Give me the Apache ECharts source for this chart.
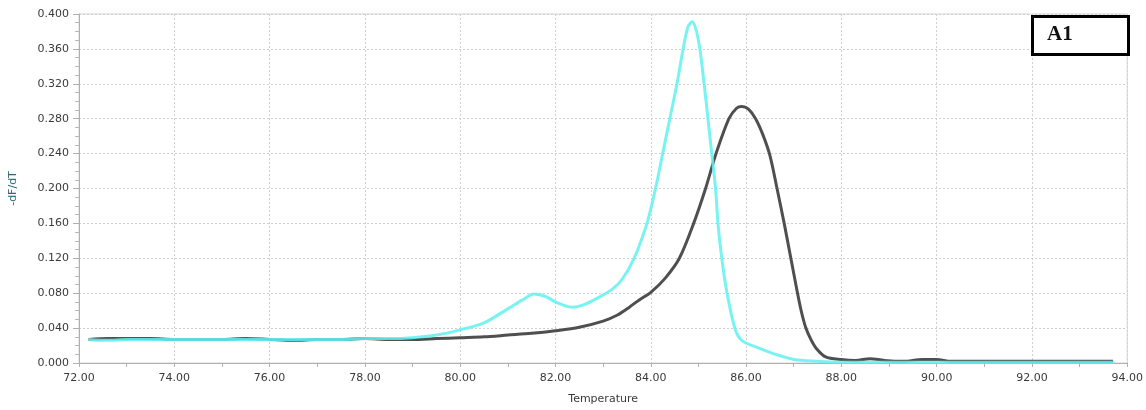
<!DOCTYPE html>
<html>
<head>
<meta charset="utf-8">
<title>Melt curve A1</title>
<script src="https://cdn.jsdelivr.net/npm/echarts@6/dist/echarts.min.js"></script>
<style>
  html, body { margin: 0; padding: 0; background: #ffffff; }
  #chart { width: 1146px; height: 410px; }
</style>
</head>
<body>
<div id="chart"></div>
<script>
// Melt-curve derivative (-dF/dT) versus temperature, two wells.
var xTicks = ['72.00', '74.00', '76.00', '78.00', '80.00', '82.00', '84.00', '86.00', '88.00', '90.00', '92.00', '94.00'];
var yTicks = ['0.000', '0.040', '0.080', '0.120', '0.160', '0.200', '0.240', '0.280', '0.320', '0.360', '0.400'];

// Dark trace: temperatures and -dF/dT values
var darkTemp = [72.2, 72.6, 73.0, 73.5, 74.0, 74.5, 75.0, 75.5, 76.0, 76.5, 77.0, 77.5, 78.0, 78.5, 79.0, 79.5,
  80.0, 80.5, 81.0, 81.5, 82.0, 82.5, 83.0, 83.3, 83.55, 83.75, 84.0, 84.3, 84.6, 84.9, 85.15, 85.37, 85.64,
  85.8, 85.91, 86.05, 86.2, 86.35, 86.5, 86.65, 86.8, 86.94, 87.08, 87.16, 87.25, 87.36, 87.47, 87.67, 88.0,
  88.3, 88.6, 88.9, 89.3, 89.7, 90.0, 90.3, 91.0, 92.0, 93.0, 93.7];
var darkVal = [0.027, 0.028, 0.028, 0.028, 0.027, 0.027, 0.027, 0.028, 0.027, 0.026, 0.027, 0.027, 0.028, 0.027, 0.027, 0.028,
  0.029, 0.030, 0.032, 0.034, 0.037, 0.041, 0.048, 0.055, 0.064, 0.072, 0.081, 0.097, 0.120, 0.160, 0.200, 0.240, 0.280,
  0.292, 0.294, 0.291, 0.280, 0.262, 0.238, 0.200, 0.160, 0.120, 0.080, 0.059, 0.041, 0.027, 0.017, 0.007, 0.004,
  0.003, 0.005, 0.003, 0.002, 0.004, 0.004, 0.002, 0.002, 0.002, 0.002, 0.002];

// Cyan trace: temperatures and -dF/dT values
var cyanTemp = [72.2, 72.6, 73.0, 73.5, 74.0, 74.5, 75.0, 75.5, 76.0, 76.5, 77.0, 77.5, 78.0, 78.5, 79.0, 79.5,
  80.0, 80.5, 81.0, 81.3, 81.55, 81.8, 82.0, 82.35, 82.6, 82.9, 83.2, 83.4, 83.65, 83.92, 84.1, 84.25, 84.4,
  84.55, 84.68, 84.78, 84.87, 84.95, 85.03, 85.12, 85.2, 85.28, 85.36, 85.41, 85.49, 85.6, 85.77, 85.91,
  86.27, 86.56, 87.0, 87.5, 88.0, 89.0, 90.0, 91.0, 92.0, 93.0, 93.73];
var cyanVal = [0.027, 0.026, 0.027, 0.027, 0.027, 0.027, 0.027, 0.027, 0.027, 0.027, 0.027, 0.027, 0.028, 0.028, 0.029, 0.032,
  0.038, 0.046, 0.062, 0.072, 0.079, 0.076, 0.070, 0.064, 0.067, 0.075, 0.085, 0.096, 0.120, 0.160, 0.200, 0.240, 0.280,
  0.320, 0.360, 0.385, 0.391, 0.382, 0.360, 0.320, 0.280, 0.240, 0.200, 0.160, 0.120, 0.080, 0.039, 0.026,
  0.017, 0.011, 0.004, 0.002, 0.001, 0.001, 0.001, 0.001, 0.001, 0.001, 0.001];

function pairs(xs, ys) {
  return xs.map(function (x, i) { return [x, ys[i]]; });
}

var chart = echarts.init(document.getElementById('chart'), null, { renderer: 'canvas' });

var labelFont = { color: '#3a3a3a', fontSize: 11, fontFamily: 'DejaVu Sans' };

chart.setOption({
  animation: false,
  backgroundColor: '#ffffff',
  grid: {
    left: 79, right: 17, top: 14, bottom: 47,
    show: true, borderColor: '#d4d4d4', borderWidth: 1, backgroundColor: 'transparent'
  },
  xAxis: {
    type: 'value',
    min: 72, max: 94, interval: 2,
    name: 'Temperature',
    nameLocation: 'middle',
    nameGap: 31,
    nameTextStyle: { color: '#3a3a3a', fontSize: 11, fontFamily: 'DejaVu Sans' },
    axisLine: { show: true, lineStyle: { color: '#b0b0b0', width: 1 } },
    axisTick: { show: true, length: 4, lineStyle: { color: '#b0b0b0' } },
    minorTick: { show: true, splitNumber: 2, length: 4, lineStyle: { color: '#b0b0b0' } },
    axisLabel: Object.assign({
      margin: 10,
      formatter: function (v) { return xTicks[Math.round((v - 72) / 2)]; }
    }, labelFont),
    splitLine: { show: true, lineStyle: { color: '#d0d0d0', type: [2, 2], width: 1 } }
  },
  yAxis: {
    type: 'value',
    min: 0, max: 0.4, interval: 0.04,
    name: '-dF/dT',
    nameLocation: 'middle',
    nameGap: 60,
    nameTextStyle: { color: '#2a6b74', fontSize: 11, fontFamily: 'DejaVu Sans' },
    axisLine: { show: true, lineStyle: { color: '#b0b0b0', width: 1 } },
    axisTick: { show: true, length: 6, lineStyle: { color: '#b0b0b0' } },
    minorTick: { show: true, splitNumber: 4, length: 4, lineStyle: { color: '#b8b8b8' } },
    axisLabel: Object.assign({
      margin: 10,
      formatter: function (v) { return yTicks[Math.round(v / 0.04)]; }
    }, labelFont),
    splitLine: { show: true, lineStyle: { color: '#d0d0d0', type: [2, 2], width: 1 } }
  },
  series: [
    {
      type: 'line',
      name: 'dark',
      data: pairs(darkTemp, darkVal),
      smooth: 0.3,
      showSymbol: false,
      z: 2,
      lineStyle: { color: '#4f4f4f', width: 3 }
    },
    {
      type: 'line',
      name: 'cyan',
      data: pairs(cyanTemp, cyanVal),
      smooth: 0.3,
      showSymbol: false,
      z: 3,
      lineStyle: { color: '#62f0f0', width: 3, opacity: 0.85 }
    }
  ],
  graphic: [
    {
      type: 'rect',
      left: 1031, top: 15,
      shape: { width: 96, height: 38 },
      style: { fill: '#ffffff', stroke: '#000000', lineWidth: 3 },
      z: 100
    },
    {
      type: 'text',
      left: 1047, top: 24,
      style: { text: 'A1', fill: '#111111', font: 'bold 21px "Liberation Serif"' },
      z: 101
    }
  ]
});
</script>
</body>
</html>
